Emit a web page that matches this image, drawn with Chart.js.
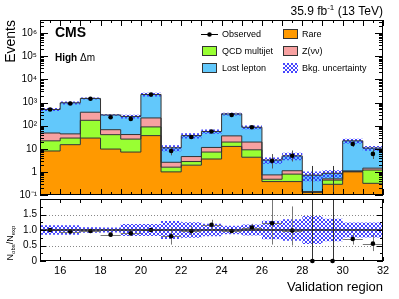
<!DOCTYPE html>
<html>
<head>
<meta charset="utf-8">
<script src="https://cdn.jsdelivr.net/npm/chart.js@4.4.1/dist/chart.umd.min.js"></script>
<style>
  body { margin: 0; background: #fff; }
  #wrap { position: relative; width: 399px; height: 299px; }
  #wrap canvas { position: absolute; left: 0; top: 0; }
</style>
</head>
<body>
<div id="wrap">
  <canvas id="mainChart" width="399" height="299"></canvas>
  <canvas id="ratioChart" width="399" height="299"></canvas>
</div>
<script>
const FONT = '"Liberation Sans", Arial, Helvetica, sans-serif';

// validation regions (bin low edges, each bin is one unit wide)
const regions = [15, 16, 17, 18, 19, 20, 21, 22, 23, 24, 25, 26, 27, 28, 29, 30, 31];

// background components (not stacked)
const rare    = [8, 15, 29, 9.7, 7.2, 37, 1.0, 1.95, 3.6, 12.6, 4.3, 0.38, 0.38, 0.13, 0.29, 1.0, 0.32];
const qcd     = [14, 14, 141, 31, 19, 51, 0.6, 0.85, 3.6, 6.9, 4.7, 0.1, 0.42, 0.005, 0.15, 0.05, 0.88];
const znunu   = [26, 15, 210, 26, 15, 127, 1.0, 1.8, 4.2, 16.5, 10.5, 0.26, 0.32, 0.005, 0.06, 0.05, 0.25];
const lostLep = [452, 926, 1120, 223, 209, 2015, 8.4, 32.4, 44.6, 284, 65.5, 2.5, 3.8, 0.58, 0.37, 20.9, 9.25];
// relative background uncertainty
const bkgUnc  = [0.15, 0.15, 0.09, 0.08, 0.19, 0.19, 0.29, 0.25, 0.2, 0.14, 0.18, 0.3, 0.35, 0.45, 0.36, 0.24, 0.24];

const observed = [500, 900, 1450, 230, 195, 2200, 8, 32, 56, 290, 85, 3, 5, 0, 0, 16, 6];
const obsErrLo = [22, 30, 38, 15, 14, 47, 2.8, 5.6, 7.5, 17, 9.2, 1.6, 2.2, 0, 0, 4, 2.4];
const obsErrHi = [22, 30, 38, 15, 14, 47, 4.0, 6.7, 8.5, 17, 9.2, 2.9, 3.4, 1.8, 1.8, 5.1, 3.6];

const ratio      = [1.0, 0.95, 0.97, 0.85, 0.89, 1.0, 0.8, 0.97, 1.17, 0.97, 1.08, 1.22, 0.98, 0, 0, 0.71, 0.56];
const ratioErrLo = [0.05, 0.04, 0.03, 0.07, 0.07, 0.03, 0.27, 0.15, 0.14, 0.06, 0.11, 0.69, 0.48, 0, 0, 0.18, 0.24];
const ratioErrHi = [0.05, 0.04, 0.03, 0.07, 0.07, 0.03, 0.3, 0.17, 0.16, 0.06, 0.12, 1.0, 0.78, 2.5, 2.1, 0.18, 0.28];

const yTicksMain  = [0.1, 1, 10, 100, 1e3, 1e4, 1e5, 1e6];
const yLabelsMain = ['10\u207B\u00B9', '1', '10', '10\u00B2', '10\u00B3', '10\u2074', '10\u2075', '10\u2076'];
const xTicksRatio = [16, 18, 20, 22, 24, 26, 28, 30, 32];
const yTicksRatio = [0, 0.5, 1, 1.5];

const COLORS = { rare: '#ff9900', qcd: '#99ff33', znunu: '#f7a1a1', lostLep: '#62c8fb', line: '#333333' };

// stack the components
const cum = [];
let run = regions.map(() => 0);
[rare, qcd, znunu, lostLep].forEach(arr => {
  run = run.map((v, i) => v + arr[i]);
  cum.push(run);
});
const total = cum[3];

// points for a stepped histogram outline
function steps(vals) {
  const pts = regions.map((r, i) => ({ x: r, y: vals[i] }));
  pts.push({ x: regions[regions.length - 1] + 1, y: vals[vals.length - 1] });
  return pts;
}

function hatchPattern() {
  const c = document.createElement('canvas');
  c.width = 4; c.height = 4;
  const g = c.getContext('2d');
  g.fillStyle = 'rgba(50,50,255,0.9)';
  [[0, 0], [1, 1], [2, 2], [3, 3], [3, 0], [2, 1], [1, 2], [0, 3]].forEach(p => g.fillRect(p[0], p[1], 1, 1));
  return g.createPattern(c, 'repeat');
}
const hatch = hatchPattern();

function histSet(label, vals, color, fill) {
  return { label, data: steps(vals), stepped: true, borderColor: COLORS.line, borderWidth: 1,
           pointRadius: 0, fill, backgroundColor: color };
}
function bandSet(vals, fill) {
  return { data: steps(vals), stepped: true, borderWidth: 0, borderColor: 'rgba(0,0,0,0)',
           pointRadius: 0, fill, backgroundColor: hatch };
}

// ROOT-like frame with inward ticks
function frameTicks(xTicks, yTicks) {
  return {
    id: 'frameTicks',
    afterDatasetsDraw(chart) {
      const { ctx, chartArea: a, scales: { x, y } } = chart;
      ctx.save();
      ctx.strokeStyle = '#000';
      ctx.lineWidth = 1;
      ctx.beginPath();
      xTicks.forEach(([v, len]) => {
        const px = Math.round(x.getPixelForValue(v)) + 0.5;
        ctx.moveTo(px, a.bottom); ctx.lineTo(px, a.bottom - len);
        ctx.moveTo(px, a.top); ctx.lineTo(px, a.top + len);
      });
      yTicks.forEach(([v, len]) => {
        const py = Math.round(y.getPixelForValue(v)) + 0.5;
        ctx.moveTo(a.left, py); ctx.lineTo(a.left + len, py);
        ctx.moveTo(a.right, py); ctx.lineTo(a.right - len, py);
      });
      ctx.stroke();
      ctx.strokeRect(Math.round(a.left) + 0.5, Math.round(a.top) + 0.5,
                     Math.round(a.right - a.left) - 1, Math.round(a.bottom - a.top) - 1);
      ctx.restore();
    }
  };
}

// vertical (and horizontal) error bars, drawn just before the points
function errorBars(values, lo, hi, color, withX) {
  return {
    id: 'errorBars',
    beforeDatasetDraw(chart, args) {
      if (args.index !== 0) return;
      const { ctx, chartArea: a, scales: { x, y } } = chart;
      ctx.save();
      ctx.beginPath();
      ctx.rect(a.left, a.top, a.right - a.left, a.bottom - a.top + 2);
      ctx.clip();
      ctx.lineWidth = 1;
      regions.forEach((r, i) => {
        ctx.strokeStyle = values[i] > 0 ? color : '#333';
        ctx.beginPath();
        const px = Math.round(x.getPixelForValue(r + 0.5)) + 0.5;
        const low = values[i] - lo[i];
        const yLo = low > 0 || y.type !== 'logarithmic' ? y.getPixelForValue(low) : a.bottom;
        const yHi = y.getPixelForValue(values[i] + hi[i]);
        ctx.moveTo(px, yLo); ctx.lineTo(px, yHi);
        if (withX && values[i] > 0) {
          const py = Math.round(y.getPixelForValue(values[i])) + 0.5;
          ctx.moveTo(x.getPixelForValue(r), py); ctx.lineTo(x.getPixelForValue(r + 1), py);
        }
        ctx.stroke();
      });
      ctx.restore();
    }
  };
}

const mainXTicks = [];
for (let v = 15; v <= 32; v += 0.5) mainXTicks.push([v, Number.isInteger(v) ? 6 : 3]);
const mainYTicks = [];
for (let e = -1; e <= 6; e++) for (let m = 1; m <= 9; m++) {
  const v = m * Math.pow(10, e);
  if (v <= 3.7e6) mainYTicks.push([v, m === 1 ? 8 : 4]);
}

const mainLabels = {
  id: 'mainLabels',
  afterDraw(chart) {
    const { ctx, chartArea: a } = chart;
    ctx.save();
    ctx.fillStyle = '#000';
    ctx.textBaseline = 'alphabetic';
    // luminosity
    const f12 = '12px ' + FONT, f8 = '8px ' + FONT;
    ctx.font = f12;
    const p1 = '35.9 fb', p3 = ' (13 TeV)';
    const w1 = ctx.measureText(p1).width, w3 = ctx.measureText(p3).width;
    ctx.font = f8;
    const w2 = ctx.measureText('-1').width;
    let xx = a.right - w1 - w2 - w3;
    ctx.font = f12; ctx.fillText(p1, xx, 15); xx += w1;
    ctx.font = f8; ctx.fillText('-1', xx, 10); xx += w2;
    ctx.font = f12; ctx.fillText(p3, xx, 15);
    // CMS label
    ctx.font = 'bold 14px ' + FONT;
    ctx.fillText('CMS', 55, 37);
    ctx.font = 'bold 10px ' + FONT;
    ctx.fillText('High', 55, 61);
    const wh = ctx.measureText('High ').width;
    ctx.font = '10px ' + FONT;
    ctx.fillText('\u0394m', 55 + wh, 61);
    // legend
    ctx.font = '9px ' + FONT;
    const rows = [34, 51, 68];
    const box = (x0, yc, color, outline) => {
      ctx.fillStyle = color;
      ctx.fillRect(x0, yc - 5, 15, 10);
      if (outline) { ctx.strokeStyle = COLORS.line; ctx.lineWidth = 1; ctx.strokeRect(x0 + 0.5, yc - 4.5, 14, 9); }
      ctx.fillStyle = '#000';
    };
    ctx.strokeStyle = '#000'; ctx.lineWidth = 1;
    ctx.beginPath(); ctx.moveTo(201, rows[0] + 0.5); ctx.lineTo(218, rows[0] + 0.5); ctx.stroke();
    ctx.beginPath(); ctx.arc(209.5, rows[0] + 0.5, 2.3, 0, Math.PI * 2); ctx.fill();
    ctx.fillText('Observed', 222, rows[0] + 3.3);
    box(202, rows[1], COLORS.qcd, true);
    ctx.fillText('QCD multijet', 222, rows[1] + 3.3);
    box(202, rows[2], COLORS.lostLep, true);
    ctx.fillText('Lost lepton', 222, rows[2] + 3.3);
    box(283, rows[0], COLORS.rare, true);
    ctx.fillText('Rare', 302, rows[0] + 3.3);
    box(283, rows[1], COLORS.znunu, true);
    ctx.fillText('Z(\u03BD\u03BD)', 302, rows[1] + 3.3);
    box(283, rows[2], hatch, false);
    ctx.fillText('Bkg. uncertainty', 302, rows[2] + 3.3);
    ctx.restore();
  }
};

new Chart(document.getElementById('mainChart'), {
  type: 'line',
  data: {
    datasets: [
      { label: 'Observed', data: regions.map((r, i) => ({ x: r + 0.5, y: observed[i] > 0 ? observed[i] : null })),
        showLine: false, pointRadius: 2.3, pointBackgroundColor: '#000', pointBorderWidth: 0 },
      bandSet(total.map((v, i) => v * (1 + bkgUnc[i])), false),
      bandSet(total.map((v, i) => v * (1 - bkgUnc[i])), '-1'),
      histSet('Lost lepton', cum[3], COLORS.lostLep, '+1'),
      histSet('Z(\u03BD\u03BD)', cum[2], COLORS.znunu, '+1'),
      histSet('QCD multijet', cum[1], COLORS.qcd, '+1'),
      histSet('Rare', cum[0], COLORS.rare, 'start')
    ]
  },
  options: {
    responsive: false,
    animation: false,
    devicePixelRatio: 1,
    layout: { padding: { top: 20, right: 16, bottom: 104, left: 0 } },
    plugins: { legend: { display: false }, tooltip: { enabled: false }, filler: { drawTime: 'beforeDatasetsDraw' } },
    scales: {
      x: { type: 'linear', min: 15, max: 32, display: false },
      y: {
        type: 'logarithmic', min: 0.1, max: 3.7e6, bounds: 'data',
        afterFit: s => { s.width = 40; },
        afterBuildTicks: s => { s.ticks = yTicksMain.map(v => ({ value: v })); },
        grid: { display: false, drawTicks: false },
        border: { display: false },
        ticks: { callback: (v, i) => yLabelsMain[i], font: { family: FONT, size: 10 }, color: '#000', padding: 3, autoSkip: false },
        title: { display: true, text: 'Events', align: 'end', color: '#000',
                 font: { family: FONT, size: 14 }, padding: { top: 3, bottom: 0 } }
      }
    }
  },
  plugins: [errorBars(observed, obsErrLo, obsErrHi, '#555', false), frameTicks(mainXTicks, mainYTicks), mainLabels]
});

const ratioXTicks = [];
for (let v = 15; v <= 32; v += 1) ratioXTicks.push([v, 4]);
const ratioYTicks = [];
for (let v = 0; v <= 2; v += 0.25) ratioYTicks.push([v, v % 0.5 === 0 ? 6 : 3]);

const ratioDecor = {
  id: 'ratioDecor',
  beforeDatasetsDraw(chart) {
    const { ctx, chartArea: a, scales: { y } } = chart;
    ctx.save();
    ctx.strokeStyle = '#888';
    ctx.lineWidth = 1;
    ctx.setLineDash([1, 2]);
    [0.5, 1.5].forEach(v => {
      const py = Math.round(y.getPixelForValue(v)) + 0.5;
      ctx.beginPath(); ctx.moveTo(a.left, py); ctx.lineTo(a.right, py); ctx.stroke();
    });
    ctx.restore();
  },
  afterDatasetsDraw(chart) {
    const { ctx, chartArea: a, scales: { y } } = chart;
    ctx.save();
    ctx.strokeStyle = '#222';
    ctx.lineWidth = 1.5;
    const py = y.getPixelForValue(1);
    ctx.beginPath(); ctx.moveTo(a.left, py); ctx.lineTo(a.right, py); ctx.stroke();
    ctx.restore();
  },
  afterDraw(chart) {
    const { ctx } = chart;
    ctx.save();
    ctx.translate(13, 243);
    ctx.rotate(-Math.PI / 2);
    ctx.fillStyle = '#000';
    const big = '9px ' + FONT, small = '6px ' + FONT;
    const parts = [['N', big, 0], ['obs', small, 2], ['/N', big, 0], ['exp', small, 2]];
    let w = 0;
    parts.forEach(p => { ctx.font = p[1]; w += ctx.measureText(p[0]).width; });
    let xx = -w / 2;
    parts.forEach(p => { ctx.font = p[1]; ctx.fillText(p[0], xx, p[2]); xx += ctx.measureText(p[0]).width; });
    ctx.restore();
  }
};

new Chart(document.getElementById('ratioChart'), {
  type: 'line',
  data: {
    datasets: [
      { label: 'Data / expected', data: regions.map((r, i) => ({ x: r + 0.5, y: ratio[i] })),
        showLine: false, pointRadius: 2.3, pointBackgroundColor: '#000', pointBorderWidth: 0, clip: 4 },
      bandSet(bkgUnc.map(u => 1 + u), false),
      bandSet(bkgUnc.map(u => 1 - u), '-1')
    ]
  },
  options: {
    responsive: false,
    animation: false,
    devicePixelRatio: 1,
    layout: { padding: { top: 199, right: 16, bottom: 0, left: 0 } },
    plugins: { legend: { display: false }, tooltip: { enabled: false }, filler: { drawTime: 'beforeDatasetsDraw' } },
    scales: {
      x: {
        type: 'linear', min: 15, max: 32,
        afterFit: s => { s.height = 38; },
        afterBuildTicks: s => { s.ticks = xTicksRatio.map(v => ({ value: v })); },
        grid: { display: false, drawTicks: false },
        border: { display: false },
        ticks: { font: { family: FONT, size: 11 }, color: '#000', padding: 3, maxRotation: 0, autoSkip: false },
        title: { display: true, text: 'Validation region', align: 'end', color: '#000',
                 font: { family: FONT, size: 13 }, padding: { top: 0, bottom: 4 } }
      },
      y: {
        type: 'linear', min: 0, max: 2,
        afterFit: s => { s.width = 40; },
        afterBuildTicks: s => { s.ticks = yTicksRatio.map(v => ({ value: v })); },
        grid: { display: false, drawTicks: false },
        border: { display: false },
        ticks: { font: { family: FONT, size: 10 }, color: '#000', padding: 3, autoSkip: false }
      }
    }
  },
  plugins: [ratioDecor, errorBars(ratio, ratioErrLo, ratioErrHi, '#777', true), frameTicks(ratioXTicks, ratioYTicks)]
});
</script>
</body>
</html>
